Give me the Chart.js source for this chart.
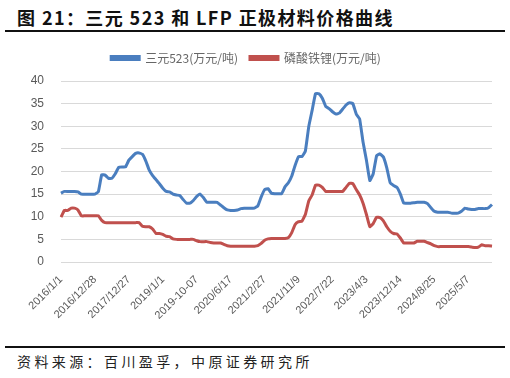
<!DOCTYPE html>
<html>
<head>
<meta charset="utf-8">
<script src="https://cdn.jsdelivr.net/npm/chart.js@4/dist/chart.umd.min.js"></script>
<style>
  html, body { margin: 0; padding: 0; background: #fff; }
  #wrap { position: relative; width: 510px; height: 378px; overflow: hidden; background: #fff; }
  #title { position: absolute; left: 17px; top: 4px; font-family: "Noto Sans CJK SC", sans-serif; font-weight: 700; font-size: 18px; color: #111; letter-spacing: 1.4px; white-space: nowrap; }
  .rule { position: absolute; left: 5px; width: 500px; background: #111; }
  #src { position: absolute; left: 17px; top: 351px; font-family: "Noto Sans CJK SC", sans-serif; font-size: 14px; color: #222; letter-spacing: 3.4px; white-space: nowrap; }
  #cv { position: absolute; left: 0; top: 40px; }
</style>
</head>
<body>
<div id="wrap">
  <div id="title">图 21：三元 523 和 LFP 正极材料价格曲线</div>
  <div class="rule" style="top:30px;height:2px;"></div>
  <canvas id="cv" width="510" height="300"></canvas>
  <div class="rule" style="top:346px;height:2px;"></div>
  <div id="src">资料来源：百川盈孚，中原证券研究所</div>
</div>
<script>
// Tick labels shown on the x axis (every 10th point)
const tickDates = ["2016/1/1","2016/12/28","2017/12/27","2019/1/1","2019-10-07","2020/6/17",
                   "2021/2/27","2021/11/9","2022/7/22","2023/4/3","2023/12/14","2024/8/25","2025/5/7"];

// 三元523 (万元/吨)
const ncm523 = [
  15.2,15.6,15.6,15.6,15.6,15.5,15.0,15.0,15.0,15.0,
  15.0,15.5,19.3,19.2,18.5,18.5,19.5,20.9,21.0,21.0,
  22.5,23.3,24.0,24.1,23.8,22.3,20.3,19.1,18.2,17.3,
  16.3,15.6,15.5,15.0,14.8,14.7,13.8,13.0,13.0,13.6,
  14.5,15.0,14.2,13.2,13.2,13.2,13.2,12.6,12.0,11.5,
  11.4,11.4,11.5,11.8,11.9,11.9,11.9,11.9,12.4,14.4,
  16.0,16.2,15.2,15.1,15.1,15.1,16.6,17.5,19.0,21.4,
  23.3,23.3,24.5,29.9,33.5,37.2,37.2,36.2,34.4,33.9,
  33.2,32.7,32.9,33.8,34.7,35.2,35.0,32.7,31.6,26.5,
  22.5,18.0,19.5,23.5,23.9,23.2,20.8,17.5,16.9,16.5,
  15.0,13.0,13.0,13.0,13.1,13.2,13.2,13.2,12.9,12.0,
  11.2,11.0,11.0,11.0,11.0,10.8,10.8,10.8,11.2,11.9,
  11.7,11.6,11.6,11.8,11.8,11.8,12.0,12.7
];

// 磷酸铁锂 (万元/吨)
const lfp = [
  9.9,11.4,11.4,11.9,11.9,11.5,10.2,10.2,10.2,10.2,
  10.2,10.2,9.2,8.7,8.7,8.7,8.7,8.7,8.7,8.7,
  8.7,8.7,8.7,8.7,7.9,7.8,7.8,7.3,6.3,6.3,
  6.1,5.7,5.6,5.1,5.0,5.0,5.0,5.0,5.0,5.0,
  4.7,4.5,4.5,4.5,4.3,4.2,4.2,4.2,3.9,3.6,
  3.5,3.5,3.5,3.5,3.5,3.5,3.5,3.5,3.6,4.1,
  4.8,5.1,5.2,5.2,5.2,5.2,5.2,5.4,6.5,8.3,
  8.9,9.0,10.5,13.5,14.8,17.0,17.0,16.5,15.6,15.6,
  15.6,15.6,15.6,15.6,16.5,17.4,17.3,16.0,14.8,13.0,
  10.5,7.8,8.5,9.9,9.8,9.1,7.8,6.8,6.3,6.2,
  5.3,4.2,4.2,4.2,4.2,4.6,4.6,4.6,4.3,4.0,
  3.6,3.4,3.4,3.4,3.4,3.4,3.4,3.4,3.4,3.4,
  3.4,3.3,3.2,3.3,3.8,3.6,3.6,3.5
];

const step = 10;
const labels = ncm523.map((_, i) => (i % step === 0 && tickDates[i / step]) ? tickDates[i / step] : "");

// Extra space under the legend so the plot starts lower
const legendGap = {
  id: "legendGap",
  afterInit(chart) {
    const lg = chart.legend;
    if (!lg) return;
    const f = lg.fit.bind(lg);
    lg.fit = function() { f(); this.height += 7; };
  }
};

new Chart(document.getElementById("cv"), {
  type: "line",
  data: {
    labels: labels,
    datasets: [
      { label: "三元523(万元/吨)", data: ncm523, borderColor: "#4a7ebf", backgroundColor: "#4a7ebf",
        borderWidth: 3, pointRadius: 0, tension: 0.1, fill: false },
      { label: "磷酸铁锂(万元/吨)", data: lfp, borderColor: "#c0504d", backgroundColor: "#c0504d",
        borderWidth: 3, pointRadius: 0, tension: 0.1, fill: false }
    ]
  },
  plugins: [legendGap],
  options: {
    responsive: false,
    animation: false,
    layout: { padding: { left: 0, right: 18, top: 0, bottom: 0 } },
    plugins: {
      legend: {
        position: "top",
        labels: {
          boxWidth: 28, boxHeight: 3, padding: 12, color: "#666",
          font: { family: "'Noto Sans CJK SC', sans-serif", size: 12 }
        }
      },
      tooltip: { enabled: false }
    },
    scales: {
      x: {
        type: "category",
        offset: false,
        grid: { display: false },
        border: { display: false },
        ticks: {
          autoSkip: false, maxRotation: 45, minRotation: 45, color: "#595959", padding: 3,
          font: { family: "'Liberation Sans', Arial, sans-serif", size: 11 },
          callback: function(v, i) { const l = labels[i]; return l === "" ? null : l; }
        },
        afterFit: function(s) { s.height = 78; }
      },
      y: {
        min: 0, max: 40,
        grid: { color: "#d9d9d9", lineWidth: 1, drawTicks: false },
        border: { display: false },
        ticks: { stepSize: 5, color: "#595959", padding: 17,
          font: { family: "'Liberation Sans', Arial, sans-serif", size: 12 } },
        afterFit: function(s) { s.width = 61; }
      }
    }
  }
});
</script>
</body>
</html>
